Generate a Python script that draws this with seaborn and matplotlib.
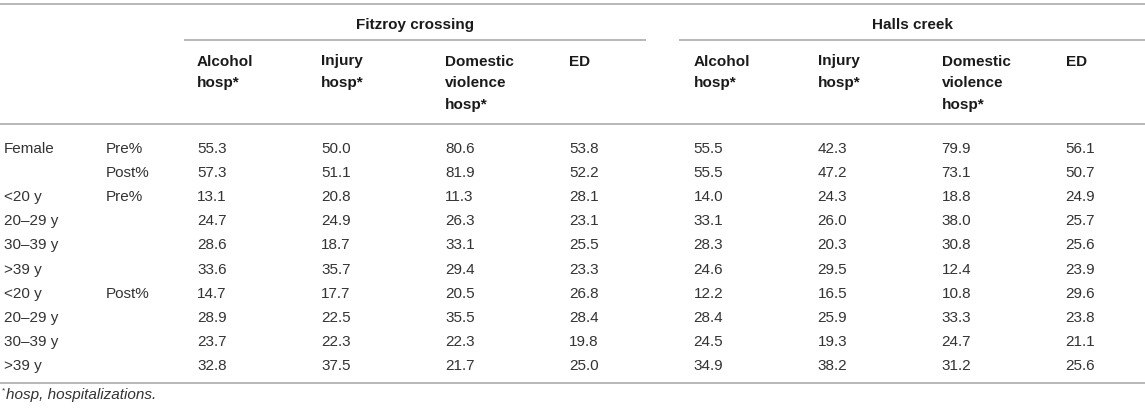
import numpy as np
import pandas as pd
import matplotlib
matplotlib.use("Agg")
import matplotlib.pyplot as plt
from matplotlib.colors import ListedColormap
from matplotlib.transforms import blended_transform_factory, offset_copy
import seaborn as sns

# Table content
sites = ["Fitzroy crossing", "Halls creek"]
measures = ["Alcohol\nhosp*", "Injury\nhosp*", "Domestic\nviolence\nhosp*", "ED"]

row_group = ["Female", "", "<20 y", "20–29 y", "30–39 y", ">39 y",
             "<20 y", "20–29 y", "30–39 y", ">39 y"]
row_period = ["Pre%", "Post%", "Pre%", "", "", "", "Post%", "", "", ""]

fitzroy_alcohol = [55.3, 57.3, 13.1, 24.7, 28.6, 33.6, 14.7, 28.9, 23.7, 32.8]
fitzroy_injury = [50.0, 51.1, 20.8, 24.9, 18.7, 35.7, 17.7, 22.5, 22.3, 37.5]
fitzroy_dv = [80.6, 81.9, 11.3, 26.3, 33.1, 29.4, 20.5, 35.5, 22.3, 21.7]
fitzroy_ed = [53.8, 52.2, 28.1, 23.1, 25.5, 23.3, 26.8, 28.4, 19.8, 25.0]
halls_alcohol = [55.5, 55.5, 14.0, 33.1, 28.3, 24.6, 12.2, 28.4, 24.5, 34.9]
halls_injury = [42.3, 47.2, 24.3, 26.0, 20.3, 29.5, 16.5, 25.9, 19.3, 38.2]
halls_dv = [79.9, 73.1, 18.8, 38.0, 30.8, 12.4, 10.8, 33.3, 24.7, 31.2]
halls_ed = [56.1, 50.7, 24.9, 25.7, 25.6, 23.9, 29.6, 23.8, 21.1, 25.6]

footnote = "hosp, hospitalizations."

cols = pd.MultiIndex.from_product([sites, measures])
df = pd.DataFrame(
    np.column_stack([fitzroy_alcohol, fitzroy_injury, fitzroy_dv, fitzroy_ed,
                     halls_alcohol, halls_injury, halls_dv, halls_ed]),
    columns=cols,
)

sns.set_theme(style="white")
plt.rcParams["font.family"] = ["Liberation Sans", "DejaVu Sans"]

W, H = 1145, 415
FS = 11
BASE_OFF = -5.5  # baseline sits this far below the row centre (dots)
fig = plt.figure(figsize=(W / 100, H / 100), dpi=100)

# heatmap axes holding the numeric cells
cell_w, cell_h = 124.1, 24.2
hm_left, hm_top = 135, 135
n_rows, n_cols = df.shape
hm = fig.add_axes([hm_left / W, (H - hm_top - n_rows * cell_h) / H,
                   n_cols * cell_w / W, n_rows * cell_h / H])
sns.heatmap(df, ax=hm, cmap=ListedColormap(["white"]), cbar=False,
            annot=True, fmt=".1f", xticklabels=False, yticklabels=False,
            annot_kws=dict(ha="left", va="baseline", color="#333333", fontsize=FS,
                           transform=offset_copy(hm.transData, fig=fig,
                                                 y=BASE_OFF, units="dots")))
hm.set_axis_off()
hm.set_zorder(0)

# overlay axes in pixel coordinates for rules and labels
ax0 = fig.add_axes([0, 0, 1, 1])
ax0.set_xlim(0, W)
ax0.set_ylim(H, 0)
ax0.set_axis_off()
ax0.set_zorder(1)
ax0.patch.set_visible(False)

text_color = "#333333"
head_color = "#1a1a1a"
line_color = "#ababab"
lw = 1.2

# horizontal rules
ax0.hlines([4, 124, 383], 0, W, color=line_color, lw=lw)
ax0.hlines(40, 184, 646, color=line_color, lw=lw)
ax0.hlines(40, 679, W, color=line_color, lw=lw)

# site headers
ax0.text((184 + 646) / 2, 29, sites[0], ha="center", va="baseline",
         fontsize=FS, fontweight="bold", color=head_color)
ax0.text((679 + W) / 2, 29, sites[1], ha="center", va="baseline",
         fontsize=FS, fontweight="bold", color=head_color)

# measure headers aligned with heatmap columns
col_trans = blended_transform_factory(hm.transData, ax0.transData)
for i, (site, m) in enumerate(df.columns):
    for k, line in enumerate(m.split("\n")):
        ax0.text(i + 0.5, 65.5 + 21.5 * k, line, ha="left", va="baseline",
                 fontsize=FS, fontweight="bold", color=head_color,
                 transform=col_trans)

# row labels aligned with heatmap rows
row_trans = offset_copy(blended_transform_factory(ax0.transData, hm.transData),
                        fig=fig, y=BASE_OFF, units="dots")
for j in range(n_rows):
    ax0.text(4, j + 0.5, row_group[j], ha="left", va="baseline",
             fontsize=FS, color=text_color, transform=row_trans)
    ax0.text(106, j + 0.5, row_period[j], ha="left", va="baseline",
             fontsize=FS, color=text_color, transform=row_trans)

# footnote
ax0.text(2, 392, "*", ha="left", va="baseline", fontsize=6, color=text_color)
ax0.text(6, 398.5, footnote, ha="left", va="baseline", fontsize=FS,
         fontstyle="italic", color=text_color)

fig.savefig("out.png", dpi=100)
